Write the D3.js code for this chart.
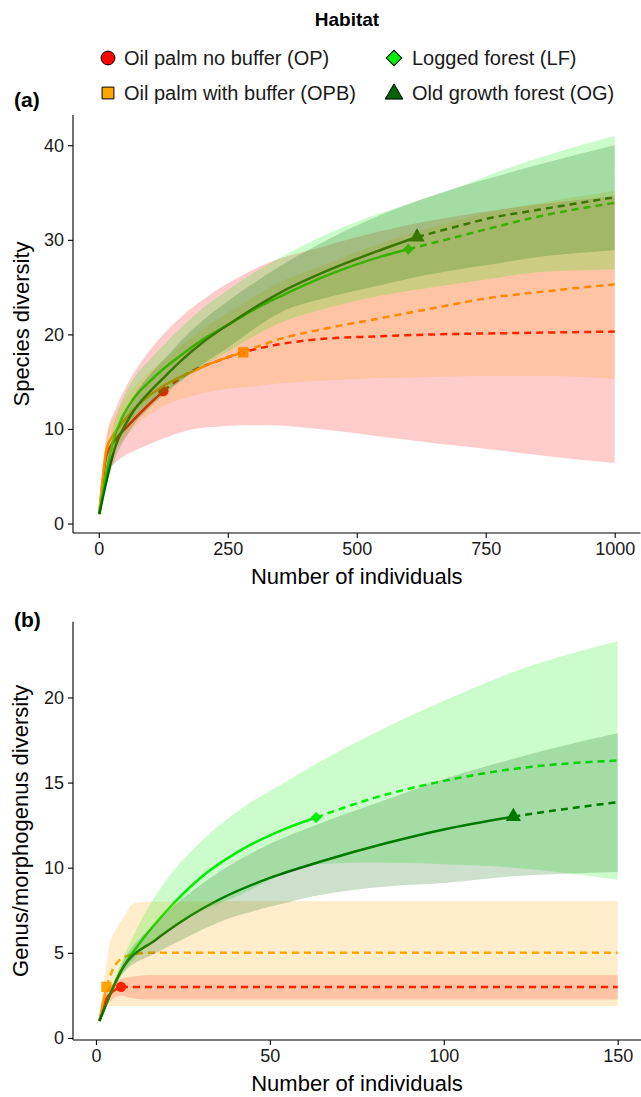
<!DOCTYPE html>
<html>
<head>
<meta charset="utf-8">
<script src="https://cdn.jsdelivr.net/npm/d3@7"></script>
<style>
  html, body { margin: 0; padding: 0; background: #fff; }
  svg { display: block; font-family: "Liberation Sans", Arial, sans-serif; }
</style>
</head>
<body>
<svg id="chart" width="641" height="1097"></svg>
<script>
// ---------------- DATA ----------------
const habitats = ["Oil palm no buffer (OP)", "Oil palm with buffer (OPB)", "Logged forest (LF)", "Old growth forest (OG)"];
const habitatColors = ["#FF0000", "#FFA500", "#00EE00", "#006400"];

// Panel (a): species diversity
const xTicksA = [0, 250, 500, 750, 1000];
const yTicksA = [0, 10, 20, 30, 40];

const opA_n  = [1, 15, 34, 54, 86, 125, 176, 221, 280, 325, 429, 545, 650, 750, 875, 1000];
const opA_S  = [1, 7.2, 9.0, 10.2, 12.0, 14.0, 16.0, 17.0, 18.1, 18.7, 19.5, 19.8, 20.0, 20.1, 20.2, 20.3];
const opA_lo = [1, 5.3, 6.5, 7.3, 8.1, 9.0, 9.9, 10.2, 10.4, 10.4, 10.0, 9.2, 8.5, 7.9, 7.1, 6.4];
const opA_hi = [1, 9.0, 12.3, 14.6, 17.4, 20.0, 22.6, 24.4, 26.3, 27.5, 29.2, 30.9, 32.1, 33.0, 33.9, 34.6];
const opA_obs = 125;

const opbA_n  = [1, 15, 30, 54, 80, 118, 183, 230, 280, 350, 429, 545, 650, 750, 875, 1000];
const opbA_S  = [1, 7.9, 9.5, 11.2, 12.7, 14.3, 16.1, 17.2, 18.1, 19.5, 20.5, 21.7, 22.8, 23.8, 24.6, 25.3];
const opbA_lo = [1, 6.4, 7.6, 9.3, 10.8, 12.2, 13.5, 14.1, 14.4, 14.8, 15.1, 15.4, 15.5, 15.6, 15.6, 15.3];
const opbA_hi = [1, 9.4, 11.3, 13.5, 15.1, 17.0, 19.8, 21.6, 23.3, 25.5, 27.2, 29.6, 31.4, 32.8, 34.1, 35.2];
const opbA_obs = 280;

const lfA_n  = [1, 27, 45, 66, 100, 131, 157, 200, 250, 300, 351, 450, 545, 600, 700, 750, 855, 1000];
const lfA_S  = [1, 8.6, 11.2, 13.1, 15.1, 16.6, 17.7, 19.4, 21.0, 22.6, 24.0, 26.4, 28.2, 29.0, 30.4, 31.1, 32.5, 33.9];
const lfA_lo = [1, 7.2, 9.4, 11.1, 12.9, 14.1, 15.0, 16.6, 18.2, 19.8, 21.2, 22.9, 24.1, 24.6, 25.4, 25.8, 26.6, 26.9];
const lfA_hi = [1, 10.0, 13.0, 15.2, 17.4, 19.2, 20.6, 22.7, 24.7, 26.5, 28.1, 30.8, 32.8, 33.8, 35.6, 36.7, 38.7, 41.0];
const lfA_obs = 600;

const ogA_n  = [1, 33, 50, 66, 100, 131, 157, 200, 250, 351, 450, 545, 617, 700, 750, 855, 1000];
const ogA_S  = [1, 8.3, 10.3, 11.8, 14.0, 15.7, 17.1, 19.1, 21.0, 24.4, 26.9, 28.9, 30.3, 31.5, 32.2, 33.2, 34.5];
const ogA_lo = [1, 7.1, 8.9, 10.3, 12.3, 13.8, 15.0, 16.8, 18.6, 22.3, 24.0, 25.2, 26.1, 26.9, 27.3, 28.2, 28.9];
const ogA_hi = [1, 9.5, 11.7, 13.3, 15.8, 17.6, 19.2, 21.4, 23.5, 27.2, 30.2, 32.6, 34.1, 35.6, 36.4, 38.0, 40.0];
const ogA_obs = 617;

// Panel (b): genus/morphogenus diversity
const xTicksB = [0, 50, 100, 150];
const yTicksB = [0, 5, 10, 15, 20];

const opB_n  = [1, 2, 3, 5, 7.2, 10, 15, 50, 100, 150];
const opB_S  = [1, 1.8, 2.3, 2.75, 3.0, 3.0, 3.0, 3.0, 3.0, 3.0];
const opB_lo = [1, 1.6, 1.9, 2.3, 2.5, 2.35, 2.26, 2.26, 2.26, 2.26];
const opB_hi = [1, 2.0, 2.7, 3.2, 3.45, 3.6, 3.69, 3.69, 3.69, 3.69];
const opB_obs = 7.2;

const opbB_n  = [1, 2, 3, 4, 5, 6, 8, 10.7, 15, 50, 100, 150];
const opbB_S  = [1, 2.1, 3.0, 3.6, 4.1, 4.4, 4.75, 4.9, 5.0, 5.0, 5.0, 5.0];
const opbB_lo = [1, 1.85, 1.87, 1.87, 1.87, 1.87, 1.87, 1.87, 1.87, 1.87, 1.87, 1.87];
const opbB_hi = [1, 2.8, 4.4, 5.64, 6.1, 6.5, 7.1, 7.9, 8.0, 8.05, 8.05, 8.05];
const opbB_obs = 3;

const lfB_n  = [1, 7.4, 12.7, 20, 30, 41.4, 55.8, 63.3, 80, 100, 120, 150];
const lfB_S  = [1, 4.0, 5.6, 7.4, 9.4, 11.0, 12.4, 12.95, 14.1, 15.1, 15.8, 16.3];
const lfB_lo = [1, 3.7, 5.0, 6.2, 7.4, 8.4, 9.8, 10.2, 10.3, 10.2, 10.0, 9.3];
const lfB_hi = [1, 4.5, 6.8, 9.2, 11.5, 13.4, 15.2, 16.1, 17.9, 19.8, 21.5, 23.3];
const lfB_obs = 63.3;

const ogB_n  = [1, 7.4, 17.4, 25, 36.6, 50, 64.4, 83.6, 100, 120, 135, 150];
const ogB_S  = [1, 4.0, 5.8, 6.9, 8.25, 9.4, 10.35, 11.45, 12.25, 13.0, 13.45, 13.85];
const ogB_lo = [1, 3.7, 5.0, 5.8, 6.9, 7.7, 8.4, 8.9, 9.1, 9.5, 9.65, 9.75];
const ogB_hi = [1, 4.3, 6.8, 8.2, 9.9, 11.4, 12.6, 14.0, 15.2, 16.4, 17.2, 17.9];
const ogB_obs = 120;

// ---------------- HELPERS ----------------
function makeSeries(n, S, lo, hi, obs, idx) {
  const rows = n.map((v, i) => ({ n: v, S: S[i], lo: lo[i], hi: hi[i] }));
  return { rows, obs, color: habitatColors[idx], idx };
}

const seriesA = [
  makeSeries(opA_n, opA_S, opA_lo, opA_hi, opA_obs, 0),
  makeSeries(opbA_n, opbA_S, opbA_lo, opbA_hi, opbA_obs, 1),
  makeSeries(lfA_n, lfA_S, lfA_lo, lfA_hi, lfA_obs, 2),
  makeSeries(ogA_n, ogA_S, ogA_lo, ogA_hi, ogA_obs, 3)
];
const seriesB = [
  makeSeries(opB_n, opB_S, opB_lo, opB_hi, opB_obs, 0),
  makeSeries(opbB_n, opbB_S, opbB_lo, opbB_hi, opbB_obs, 1),
  makeSeries(lfB_n, lfB_S, lfB_lo, lfB_hi, lfB_obs, 2),
  makeSeries(ogB_n, ogB_S, ogB_lo, ogB_hi, ogB_obs, 3)
];

const svg = d3.select("#chart");

function shapePath(idx, size) {
  if (idx === 0) return d3.symbol(d3.symbolCircle, size)();
  if (idx === 1) return d3.symbol(d3.symbolSquare, size)();
  if (idx === 2) return d3.symbol(d3.symbolSquare, size)();
  return d3.symbol(d3.symbolTriangle, size)();
}
function shapeRot(idx) { return idx === 2 ? 45 : 0; }

function drawPanel(cfg) {
  const g = svg.append("g");
  const x = d3.scaleLinear().domain(cfg.xDomain).range([cfg.left, cfg.right]);
  const y = d3.scaleLinear().domain(cfg.yDomain).range([cfg.bottom, cfg.top]);

  const line = d3.line().x(d => x(d.n)).y(d => y(d.S)).curve(d3.curveMonotoneX);
  const area = d3.area().x(d => x(d.n)).y0(d => y(d.lo)).y1(d => y(d.hi)).curve(d3.curveMonotoneX);

  // points
  const markSizes = [85, 105, 60, 100];
  cfg.series.forEach(s => {
    const r = s.rows.find(d => d.n === s.obs);
    g.append("path")
      .attr("d", shapePath(s.idx, markSizes[s.idx]))
      .attr("transform", `translate(${x(r.n)},${y(r.S)}) rotate(${shapeRot(s.idx)})`)
      .attr("fill", s.color);
  });
  // lines
  cfg.series.forEach(s => {
    const solid = s.rows.filter(d => d.n <= s.obs);
    const dashed = s.rows.filter(d => d.n >= s.obs);
    g.append("path").attr("d", line(solid)).attr("fill", "none")
      .attr("stroke", s.color).attr("stroke-width", 2.5);
    g.append("path").attr("d", line(dashed)).attr("fill", "none")
      .attr("stroke", s.color).attr("stroke-width", 2.5)
      .attr("stroke-dasharray", "7,5");
  });
  // ribbons
  cfg.series.forEach(s => {
    g.append("path").attr("d", area(s.rows))
      .attr("fill", s.color).attr("fill-opacity", 0.2).attr("stroke", "none");
  });

  // axes
  const fmt = d3.format("d");
  const xAxis = d3.axisBottom(x).tickValues(cfg.xTicks).tickFormat(fmt).tickSize(5).tickSizeOuter(0).tickPadding(4);
  const yAxis = d3.axisLeft(y).tickValues(cfg.yTicks).tickFormat(fmt).tickSize(5).tickSizeOuter(0).tickPadding(4);
  const gx = g.append("g").attr("transform", `translate(0,${cfg.bottom})`).call(xAxis);
  const gy = g.append("g").attr("transform", `translate(${cfg.left},0)`).call(yAxis);
  [gx, gy].forEach(a => {
    a.select(".domain").attr("stroke", "#000").attr("stroke-width", 1.1);
    a.selectAll(".tick line").attr("stroke", "#000").attr("stroke-width", 1.1);
    a.selectAll(".tick text").attr("fill", "#1a1a1a").style("font-size", "18px")
      .style("font-family", '"Liberation Sans", Arial, sans-serif');
  });
  gx.select(".domain").attr("d", `M${cfg.left},0H${cfg.right}`);
  gy.select(".domain").attr("d", `M0,${cfg.top}V${cfg.bottom}`);

  // titles
  g.append("text").attr("x", (cfg.left + cfg.right) / 2).attr("y", cfg.xTitleY)
    .attr("text-anchor", "middle").style("font-size", "22px").attr("fill", "#000")
    .text("Number of individuals");
  g.append("text")
    .attr("transform", `translate(${cfg.yTitleX},${(cfg.top + cfg.bottom) / 2}) rotate(-90)`)
    .attr("text-anchor", "middle").attr("dy", "0.35em")
    .style("font-size", "22px").attr("fill", "#000").text(cfg.yTitle);
  g.append("text").attr("x", cfg.tagX).attr("y", cfg.tagY)
    .style("font-size", "21px").style("font-weight", "bold").attr("fill", "#000").text(cfg.tag);
}

drawPanel({
  series: seriesA, left: 73, right: 640.5, top: 115, bottom: 533,
  xDomain: [-50, 1050], yDomain: [-1.0, 43.2], xTicks: xTicksA, yTicks: yTicksA,
  xTitleY: 584, yTitleX: 21, yTitle: "Species diversity", tag: "(a)", tagX: 14, tagY: 107
});
drawPanel({
  series: seriesB, left: 73, right: 641, top: 621.7, bottom: 1040,
  xDomain: [-6.6, 156.7], yDomain: [-0.12, 24.45], xTicks: xTicksB, yTicks: yTicksB,
  xTitleY: 1091, yTitleX: 20, yTitle: "Genus/morphogenus diversity", tag: "(b)", tagX: 14, tagY: 627
});

// ---------------- LEGEND ----------------
const leg = svg.append("g");
leg.append("text").attr("x", 347).attr("y", 26).attr("text-anchor", "middle")
  .style("font-size", "19px").style("font-weight", "bold").attr("fill", "#000").text("Habitat");
const legPos = [
  { sx: 108, tx: 124, cy: 58 },
  { sx: 108, tx: 124, cy: 93 },
  { sx: 394, tx: 412, cy: 58 },
  { sx: 394, tx: 412, cy: 93 }
];
const legSizes = [150, 140, 120, 135];
habitats.forEach((h, i) => {
  const p = legPos[i];
  leg.append("path").attr("d", shapePath(i, legSizes[i]))
    .attr("transform", `translate(${p.sx},${p.cy + (i === 3 ? 1 : 0)}) rotate(${shapeRot(i)})`)
    .attr("fill", habitatColors[i]).attr("stroke", "#000").attr("stroke-width", 1);
  leg.append("text").attr("x", p.tx).attr("y", p.cy).attr("dy", "0.35em")
    .style("font-size", "20px").attr("fill", "#1a1a1a").text(h);
});
</script>
</body>
</html>
